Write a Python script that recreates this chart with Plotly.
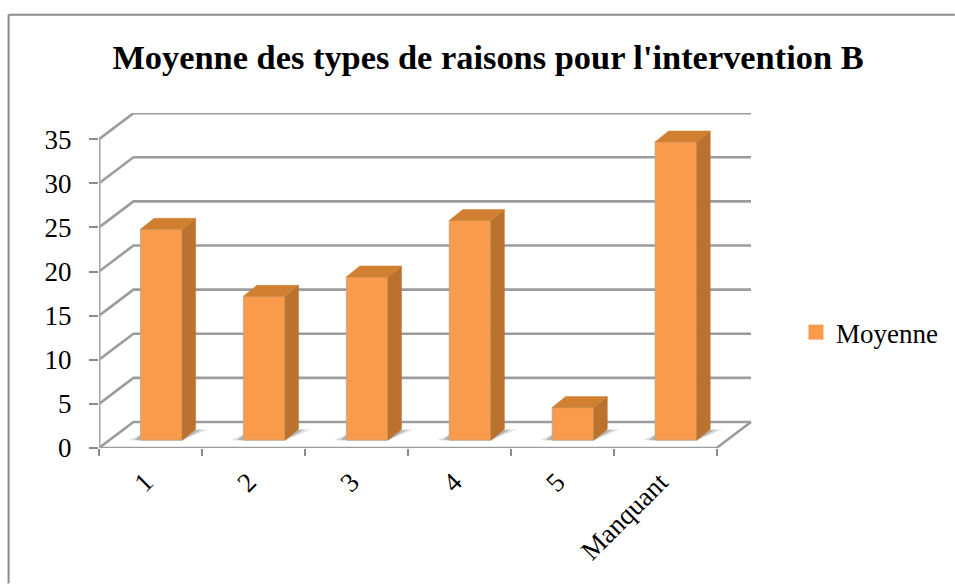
import plotly.graph_objects as go

categories = ["1", "2", "3", "4", "5", "Manquant"]
values = [23.9, 16.3, 18.5, 24.9, 3.7, 33.8]
y_ticks = [0, 5, 10, 15, 20, 25, 30, 35]
series_name = "Moyenne"
title = "Moyenne des types de raisons pour l'intervention B"

W, H = 955, 584
L, R = 98.5, 753.0          # pixel span of plot area
B, T = 448.5, 113.3
PX_PER_CAT = 103.0
PX_PER_UNIT = 44.15 / 5
x_max = (R - L) / PX_PER_CAT
y_max = (B - T) / PX_PER_UNIT
n = len(categories)

# projection depths, in axis units
wall_dx = (133.0 - L) / PX_PER_CAT
wall_dy = (B - 422.5) / PX_PER_UNIT
bar_x0 = (140.0 - L) / PX_PER_CAT
bar_w = 41.7 / PX_PER_CAT
bar_base = (B - 440.7) / PX_PER_UNIT
depth_dx = 13.5 / PX_PER_CAT
depth_dy = 11.0 / PX_PER_UNIT

FRONT = "#F99B4B"
SIDE = "#BA722E"
TOP = "#D08030"
GRID_W = 2.6

fig = go.Figure()


def line(xs, ys, color="#9a9c9e", width=GRID_W):
    fig.add_trace(go.Scatter(x=xs, y=ys, mode="lines", showlegend=False, hoverinfo="skip",
                             cliponaxis=False, line=dict(color=color, width=width)))


# back wall and side wall gridlines
for v in y_ticks:
    line([0, wall_dx, n + wall_dx], [v, v + wall_dy, v + wall_dy])
# floor
line([0, n, n + wall_dx], [0, 0, wall_dy])
# y axis line
line([0, 0], [0, y_ticks[-1]], color="#a6a6a6", width=3)

# soft floor shadows under each bar
for i, v in enumerate(values):
    x0 = i + bar_x0
    x1 = x0 + bar_w
    for a, grow in ((0.20, 0.12), (0.32, 0.06)):
        fig.add_trace(go.Scatter(
            x=[x0 - grow, x1, x1 + depth_dx + grow, x0],
            y=[bar_base, bar_base, bar_base + depth_dy, bar_base + depth_dy * 0.5],
            mode="lines", fill="toself", fillcolor=f"rgba(90,90,90,{a})",
            line=dict(width=0), showlegend=False, hoverinfo="skip"))

# front faces (real bars), on an overlaid subplot so they sit above the grid
fig.add_trace(go.Bar(
    x=[i + bar_x0 + bar_w / 2 for i in range(n)],
    y=values, base=bar_base, width=bar_w, xaxis="x2", yaxis="y2",
    marker=dict(color=FRONT, line=dict(color="#b9a48f", width=0.8)),
    showlegend=False, hoverinfo="skip"))

# side and top faces
for i, v in enumerate(values):
    x0 = i + bar_x0
    x1 = x0 + bar_w
    top = bar_base + v
    fig.add_trace(go.Scatter(
        x=[x1, x1 + depth_dx, x1 + depth_dx, x1, x1],
        y=[bar_base, bar_base + depth_dy, top + depth_dy, top, bar_base],
        mode="lines", fill="toself", fillcolor=SIDE, line=dict(color=SIDE, width=0.5),
        xaxis="x2", yaxis="y2", showlegend=False, hoverinfo="skip"))
    fig.add_trace(go.Scatter(
        x=[x0, x0 + depth_dx, x1 + depth_dx, x1, x0],
        y=[top, top + depth_dy, top + depth_dy, top, top],
        mode="lines", fill="toself", fillcolor=TOP, line=dict(color=TOP, width=0.5),
        xaxis="x2", yaxis="y2", showlegend=False, hoverinfo="skip"))

# legend entry
fig.add_trace(go.Scatter(
    x=[None], y=[None], mode="markers", name=series_name,
    marker=dict(symbol="square", size=15, color=FRONT), showlegend=True))

FONT = "Liberation Serif"

fig.update_layout(
    width=W, height=H,
    margin=dict(l=L, r=W - R, t=T, b=H - B, pad=0, autoexpand=False),
    paper_bgcolor="white", plot_bgcolor="white",
    title=dict(text=f"<b>{title}</b>", x=488 / W, xanchor="center", xref="container",
               y=1 - 57 / H, yanchor="middle", yref="container",
               font=dict(family=FONT, size=34.4, color="black")),
    xaxis=dict(range=[0, x_max], tickmode="array",
               tickvals=[i + 0.45 for i in range(n)], ticktext=categories,
               tickangle=-45, ticks="", showgrid=False, zeroline=False, showline=False,
               ticklabelstandoff=12,
               tickfont=dict(family=FONT, size=27, color="black"),
               minor=dict(tickmode="array", tickvals=list(range(n + 1)), ticks="outside",
                          ticklen=7, tickwidth=1.5, tickcolor="#8c8c8c", showgrid=False)),
    yaxis=dict(range=[0, y_max], tickmode="array", tickvals=y_ticks, ticks="outside",
               ticklen=9, tickwidth=1.5, tickcolor="#8c8c8c", showgrid=False, zeroline=False,
               showline=False, ticklabelstandoff=12,
               tickfont=dict(family=FONT, size=27, color="black")),
    xaxis2=dict(range=[0, x_max], overlaying="x", visible=False),
    yaxis2=dict(range=[0, y_max], overlaying="y", visible=False),
    legend=dict(x=(796 - L) / (R - L), y=(B - 333) / (B - T), xanchor="left", yanchor="middle",
                xref="paper", yref="paper", bgcolor="rgba(0,0,0,0)",
                font=dict(family=FONT, size=27, color="black")),
    shapes=[
        dict(type="line", xref="paper", yref="paper",
             x0=(8 - L) / (R - L), x1=(8 - L) / (R - L), y0=(B - 15) / (B - T), y1=(B - H) / (B - T),
             line=dict(color="#8a8a8a", width=2)),
        dict(type="line", xref="paper", yref="paper",
             x0=(8 - L) / (R - L), x1=(W - L) / (R - L), y0=(B - 15) / (B - T), y1=(B - 15) / (B - T),
             line=dict(color="#8a8a8a", width=2)),
    ],
)

fig.write_html("out.html", config=dict(displayModeBar=False),
               post_script="document.body.style.margin='0';document.body.style.overflow='hidden';")
